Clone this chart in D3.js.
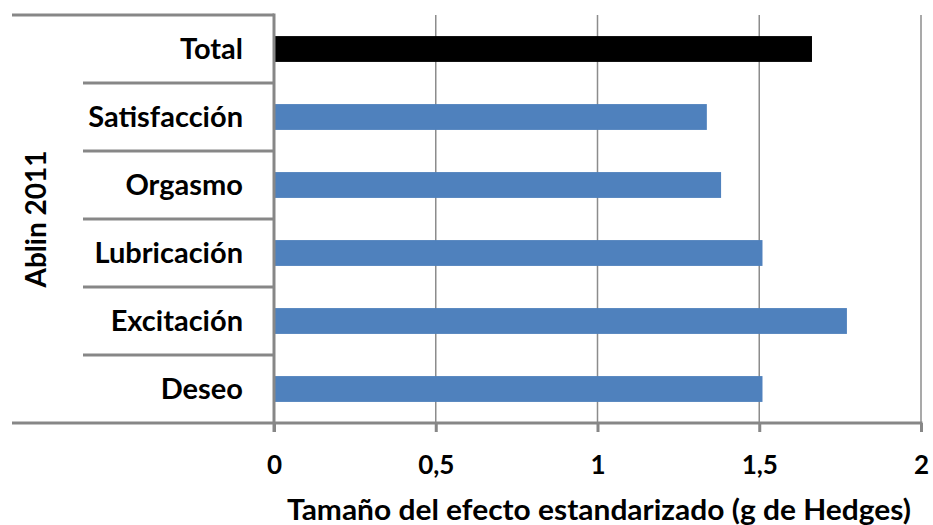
<!DOCTYPE html>
<html>
<head>
<meta charset="utf-8">
<script src="https://cdn.jsdelivr.net/npm/d3@7"></script>
<style>
  html, body { margin: 0; padding: 0; background: #fff; }
  svg { display: block; }
  text { font-family: Lato, "Open Sans", sans-serif; font-weight: bold; fill: #000; }
</style>
</head>
<body>
<svg id="chart" width="933" height="525"></svg>
<script>
// Outcome categories, top to bottom
const categories = ["Total", "Satisfacción", "Orgasmo", "Lubricación", "Excitación", "Deseo"];
// Hedges' g per outcome
const values = [1.663, 1.338, 1.382, 1.51, 1.771, 1.51];
const barColors = ["#000000", "#4F81BD", "#4F81BD", "#4F81BD", "#4F81BD", "#4F81BD"];
const xTicks = [0, 0.5, 1, 1.5, 2];
const groupLabel = "Ablin 2011";
const xTitle = "Tamaño del efecto estandarizado (g de Hedges)";

const svg = d3.select("#chart");
const axisGray = "#878787";

const x = d3.scaleLinear().domain([0, 2]).range([274, 921]);
const y = d3.scaleBand().domain(categories).range([15, 423]).paddingInner(0).paddingOuter(0);
const barFrac = 0.38;

const es = d3.formatLocale({ decimal: ",", thousands: ".", grouping: [3], currency: ["", "€"] });
const fmt = es.format("~g");

// vertical gridlines
svg.append("g")
  .selectAll("line")
  .data(xTicks.filter(d => d > 0))
  .join("line")
  .attr("x1", d => x(d)).attr("x2", d => x(d))
  .attr("y1", y.range()[0]).attr("y2", y.range()[1])
  .attr("stroke", "#8c8c8c").attr("stroke-width", 1.5);

// bars
svg.append("g")
  .selectAll("rect")
  .data(categories)
  .join("rect")
  .attr("x", x(0))
  .attr("y", d => y(d) + y.bandwidth() * (1 - barFrac) / 2)
  .attr("width", (d, i) => x(values[i]) - x(0))
  .attr("height", y.bandwidth() * barFrac)
  .attr("fill", (d, i) => barColors[i]);

// category table lines on the left
const lines = svg.append("g").attr("stroke", axisGray).attr("stroke-width", 3);
lines.append("line").attr("x1", 12).attr("x2", x(0)).attr("y1", y.range()[0]).attr("y2", y.range()[0]);
lines.selectAll("line.sep")
  .data(categories.slice(1))
  .join("line")
  .attr("class", "sep")
  .attr("x1", 83).attr("x2", x(0))
  .attr("y1", d => y(d)).attr("y2", d => y(d));

// bottom axis with ticks
const xAxis = svg.append("g")
  .attr("transform", `translate(0,${y.range()[1]})`)
  .call(d3.axisBottom(x).tickValues(xTicks).tickFormat(fmt).tickSize(9).tickPadding(24).tickSizeOuter(0));
xAxis.select(".domain").remove();
xAxis.selectAll(".tick line").attr("stroke", axisGray).attr("stroke-width", 3);
xAxis.selectAll(".tick text")
  .attr("font-size", 26).attr("font-family", "Lato, sans-serif").attr("font-weight", "bold")
  .attr("fill", "#000").attr("dy", "0.71em");
lines.append("line").attr("x1", 12).attr("x2", x(2) + 1.5).attr("y1", y.range()[1]).attr("y2", y.range()[1]);
lines.append("line").attr("x1", x(0)).attr("x2", x(0)).attr("y1", y.range()[0] - 1.5).attr("y2", y.range()[1] + 9);

// category labels
svg.append("g")
  .selectAll("text")
  .data(categories)
  .join("text")
  .attr("x", 243)
  .attr("y", d => y(d) + y.bandwidth() / 2)
  .attr("dy", "0.35em")
  .attr("text-anchor", "end")
  .attr("font-size", 29)
  .text(d => d);

// group label
svg.append("text")
  .attr("transform", `translate(46,${(y.range()[0] + y.range()[1]) / 2}) rotate(-90)`)
  .attr("text-anchor", "middle")
  .attr("font-size", 28)
  .text(groupLabel);

// axis title
svg.append("text")
  .attr("x", 599).attr("y", 520)
  .attr("text-anchor", "middle")
  .attr("font-size", 28)
  .attr("textLength", 624)
  .attr("lengthAdjust", "spacingAndGlyphs")
  .text(xTitle);
</script>
</body>
</html>
